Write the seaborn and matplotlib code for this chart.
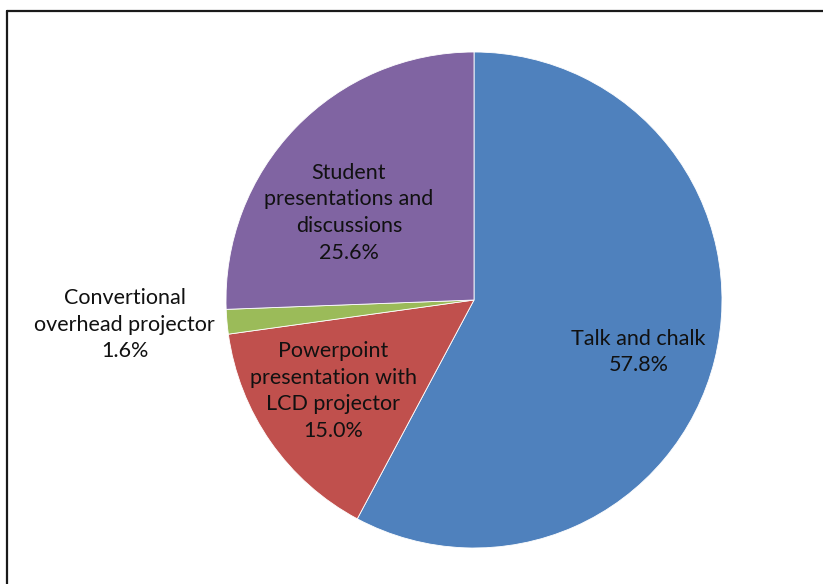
import matplotlib.pyplot as plt
import matplotlib.lines as mlines
import numpy as np
import seaborn as sns

sns.set_theme(style="white")
plt.rcParams["font.family"] = ["Lato", "DejaVu Sans"]

categories = ["Talk and chalk",
              "Powerpoint\npresentation with\nLCD projector",
              "Convertional\noverhead projector",
              "Student\npresentations and\ndiscussions"]
shares = [57.8, 15.0, 1.6, 25.6]
colors = ["#4F81BD", "#C0504D", "#9BBB59", "#8064A2"]
label_dist = [0.69, 0.67, 1.40, 0.61]
label_shift = [-3.5, -2, -1, 9]   # degrees

fig = plt.figure(figsize=(8.23, 5.84), dpi=100)
ax = fig.add_axes([(474 - 250) / 823, (584 - 300 - 250) / 584, 500 / 823, 500 / 584])
wedges, _ = ax.pie(shares, colors=colors, startangle=90, counterclock=False,
                   radius=0.992, wedgeprops=dict(edgecolor="white", linewidth=0.6))
ax.set_xlim(-1, 1)
ax.set_ylim(-1, 1)
ax.set_aspect("auto")
ax.axis("off")

for w, name, val, d, sh in zip(wedges, categories, shares, label_dist, label_shift):
    ang = np.deg2rad((w.theta1 + w.theta2) / 2 + sh)
    ax.text(d * np.cos(ang), d * np.sin(ang), f"{name}\n{val:.1f}%",
            ha="center", va="center", fontsize=15.5, linespacing=1.42,
            color="#111111")

# chart border (only top and left edges visible)
fig.add_artist(mlines.Line2D([6.5 / 823, 6.5 / 823], [0, 1 - 10.5 / 584],
                             transform=fig.transFigure, color="#1a1a1a", lw=1.6))
fig.add_artist(mlines.Line2D([6.5 / 823, 1], [1 - 10.5 / 584, 1 - 10.5 / 584],
                             transform=fig.transFigure, color="#1a1a1a", lw=1.6))

fig.savefig("out.png", dpi=100, facecolor="white")
